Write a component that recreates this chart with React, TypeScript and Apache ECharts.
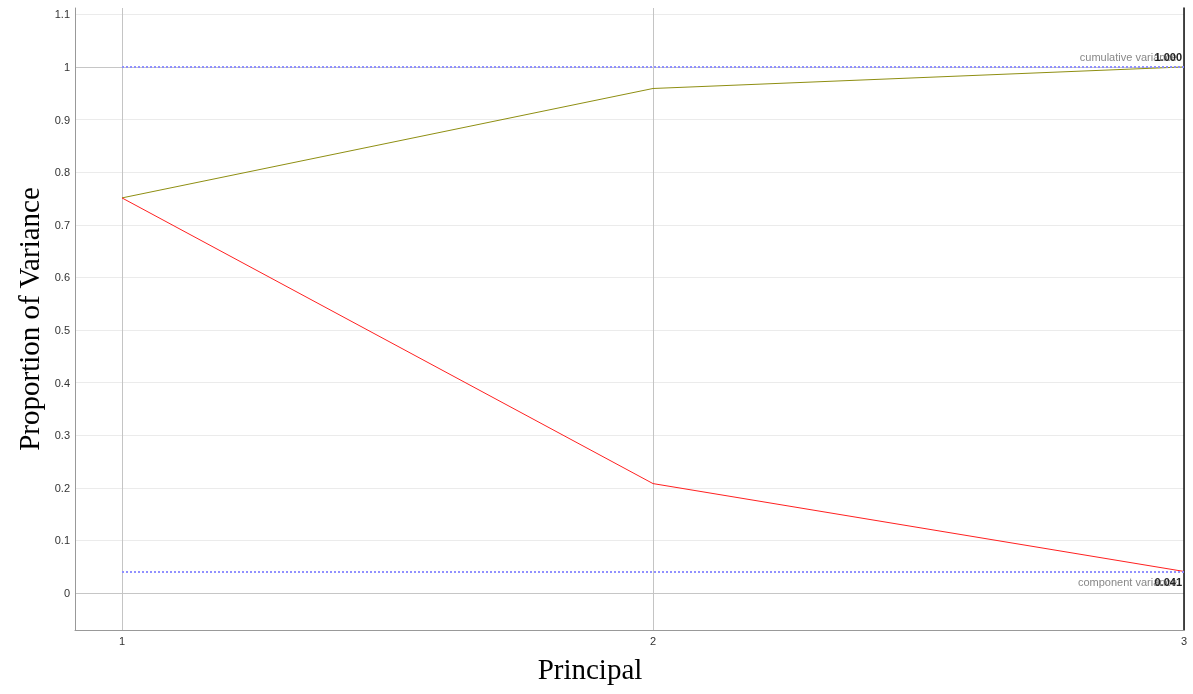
import React, { useEffect, useRef } from 'react';
import * as echarts from 'echarts';

const principal = [1, 2, 3];
const componentVariance = [0.751, 0.208, 0.041];
const cumulativeVariance = [0.751, 0.959, 1.0];
const yTicks = [0, 0.1, 0.2, 0.3, 0.4, 0.5, 0.6, 0.7, 0.8, 0.9, 1, 1.1];
const xTicks = [1, 2, 3];
const cumulativeLabel = 'cumulative variance';
const componentLabel = 'component variance';

export default function App() {
  const ref = useRef<HTMLDivElement>(null);
  useEffect(() => {
    const chart = echarts.init(ref.current!, null, { renderer: 'svg' });
    const sans = 'Helvetica, Arial, "Liberation Sans", sans-serif';
    const serif = '"Liberation Serif", "Times New Roman", serif';
    const last = principal.length - 1;
    const x0 = principal[0];
    const x1 = principal[last];
    const cumEnd = cumulativeVariance[last];
    const compEnd = componentVariance[last];
    const mlLine = () => ({ color: '#8a8aff', type: [2, 2], width: 1.5, opacity: 1 });
    const grayLbl = { color: '#888', fontSize: 11, fontFamily: sans };
    const boldLbl = { color: '#222', fontSize: 11, fontFamily: sans, fontWeight: 'bold' };
    const yMin = -0.0703;
    const yMax = 1.112;

    chart.setOption({
      animation: false,
      grid: { left: 75, right: 9, top: 8, bottom: 64, containLabel: false },
      xAxis: {
        type: 'value',
        min: 0.9115,
        max: 3,
        name: 'Principal',
        nameLocation: 'middle',
        nameGap: 24,
        nameTextStyle: {
          fontFamily: serif,
          fontSize: 29,
          color: '#000',
          verticalAlign: 'top',
          padding: [0, 79, 0, 0],
        },
        axisLine: { show: true, onZero: false, lineStyle: { color: '#999', width: 1 } },
        axisTick: { show: false, customValues: xTicks },
        axisLabel: { customValues: xTicks, fontSize: 11, color: '#333', fontFamily: sans, margin: 5 },
        splitLine: { show: true, lineStyle: { color: '#c4c4c4', width: 1 } },
      },
      yAxis: [
        {
          type: 'value',
          position: 'left',
          min: yMin,
          max: yMax,
          name: 'Proportion of Variance',
          nameLocation: 'middle',
          nameGap: 30,
          nameTextStyle: { fontFamily: serif, fontSize: 29, color: '#000' },
          axisLine: { show: true, onZero: false, lineStyle: { color: '#999', width: 1 } },
          axisTick: { show: false, customValues: yTicks },
          axisLabel: { customValues: yTicks, fontSize: 11, color: '#333', fontFamily: sans, margin: 5 },
          splitLine: {
            show: true,
            lineStyle: {
              color: yTicks.map((v) => (v === 0 || v === 1 ? '#c6c6c6' : '#ebebeb')),
              width: 1,
            },
          },
        },
        {
          type: 'value',
          position: 'right',
          min: yMin,
          max: yMax,
          axisLine: { show: true, onZero: false, lineStyle: { color: '#111', width: 1.5 } },
          axisTick: { show: false },
          axisLabel: { show: false },
          splitLine: { show: false },
        },
      ],
      series: [
        {
          type: 'line',
          name: 'cumulative',
          data: principal.map((x, i) => [x, cumulativeVariance[i]]),
          showSymbol: false,
          symbol: 'none',
          lineStyle: { color: '#8e8e12', width: 1 },
          markLine: {
            silent: true,
            symbol: ['none', 'none'],
            lineStyle: mlLine(),
            data: [
              [
                {
                  coord: [x0, cumEnd],
                  label: { show: true, position: 'insideEndTop', formatter: cumulativeLabel, distance: [7, 4], ...grayLbl },
                },
                { coord: [x1, cumEnd] },
              ],
              [
                {
                  coord: [x0, cumEnd],
                  label: { show: true, position: 'insideEndTop', formatter: cumEnd.toFixed(3), distance: [2, 4], ...boldLbl },
                },
                { coord: [x1, cumEnd] },
              ],
            ],
          },
        },
        {
          type: 'line',
          name: 'component',
          data: principal.map((x, i) => [x, componentVariance[i]]),
          showSymbol: false,
          symbol: 'none',
          lineStyle: { color: '#ff2020', width: 1 },
          markLine: {
            silent: true,
            symbol: ['none', 'none'],
            lineStyle: mlLine(),
            data: [
              [
                {
                  coord: [x0, compEnd],
                  label: { show: true, position: 'insideEndBottom', formatter: componentLabel, distance: [7, 5], ...grayLbl },
                },
                { coord: [x1, compEnd] },
              ],
              [
                {
                  coord: [x0, compEnd],
                  label: { show: true, position: 'insideEndBottom', formatter: compEnd.toFixed(3), distance: [2, 5], ...boldLbl },
                },
                { coord: [x1, compEnd] },
              ],
            ],
          },
        },
      ],
    });
    return () => chart.dispose();
  }, []);
  return <div ref={ref} style={{ position: 'fixed', left: 0, top: 0, width: 1193, height: 694 }} />;
}
